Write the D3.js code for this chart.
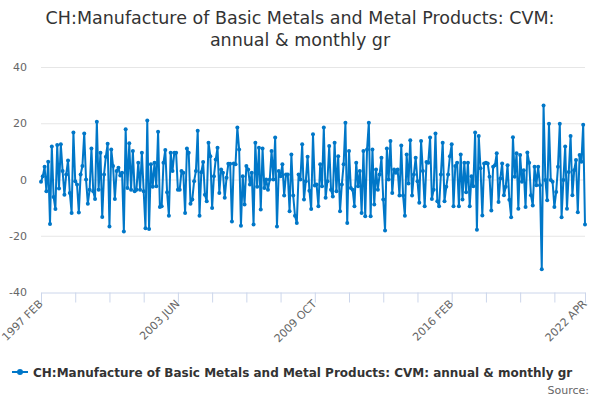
<!DOCTYPE html>
<html>
<head>
<meta charset="utf-8">
<script src="https://cdn.jsdelivr.net/npm/d3@7"></script>
<style>
  html, body { margin: 0; padding: 0; background: #fff; }
  svg { display: block; font-family: "DejaVu Sans", sans-serif; }
</style>
</head>
<body>
<div id="chart"></div>
<script>
// monthly growth, 1997 FEB .. 2022 APR
const startMonth = new Date(1997, 1, 1);
const values = [
  -0.8, 1.2, 4.5, -4.2, 6.3, -15.8, 11.7, -6.2, -10.5, 12.3,
  -3.2, 12.5, 3, -5.4, 1.8, 6.8, -4.8, -11.9, 16.7, -0.6, -1.8,
  -11.7, 1.8, 4.8, 16.4, 0, -8.6, -3.6, 11, -4.2, -6.9, 20.5,
  -3.6, 9.5, -13.3, 1.8, 8.1, 12.7, -16.7, 10.7, 4.8, -6.9,
  3, 4.2, 1.4, 2.4, -18.5, 17.9, -3, 12.9, -3.6, 10.1,
  -4.2, -3.6, 6, -3.6, 9.5, -4.2, -17.3,
  21, -17.6, 5.4, -2.6, 6, -2.4, 17, -9.8, -9.5, 6,
  10.5, -4.5, -12.9, 9.5, 3, 9.5, 9.5, -3.6, -3.6, 3,
  2.4, -11.9, 11, 9.5, -8.6, -7.1, -0.6, 3, 17.3, -12.9,
  2.6, 6.2, -5.4, -7.7, 13.1, 8.3, -10.1, 1.2, 7.1, 11.3,
  -4.8, 3.6, 2.4, -6.5, 0.6, 5.6, 5.6, -14.9, 5.7, 5.4,
  18.5, 10.7, -16.4, 1.2, -8.9, 4.8, 3.6, -1.8, 2.4, -16,
  13.1, -2.6,
  11.3, -10.7, 11, -3, 0, -3.6, 0, 10.1, 0, 14.9,
  -16.7, 3, 1.2, 5.4, -5.7, 1.8, 1.8, -11.3, 8.9, -5.7,
  -12.9, -15.5, 1.8, 0, 12.5, -7.1, -0.6, 8.1, -4, -10.5, 16.1,
  -2.1, -1.8, -9.5, 5.4, -2.4, 18.5, -6.5, -0.6, 11.9, -3.6,
  -6, 13.1, -4.2, 8.3, -11.3, -1.8, 5.4, 20.2, -15.5, 10.1,
  -3, -3.6, -9.5, 6, -2.4, 3, -11.9, 10.1, -13.1, 10.7,
  20.2, -13.1, 10.7, -8.9, 3.6, -3.6, 1.8, 7.7, -7.1, -18.1,
  11, 0, 13.7, -4.8, 3.6, 2.4, 3.6, -5.7, 12.1, -5.7,
  -12.9, 8.9, -1.4, 14, -5.7, 1.8, 7.7, -0.6, -8.3, 13.7,
  3, -9.5, 6.2, 6, 14.9, -6.9, -3.6, 16.4, -7.7, -9.5,
  1.8, 13.1, -7.7, -2.6, 1.8, 8.3, 12.5, -9.5, 4.8, 6,
  -9.5, 8.9, -7.1, 6, -4.5, 6, -9.5, 1.2, -2.4, 16.7,
  -17.9, 15.5,
  4, -12.8, 5.7, 6, 5.7, 1, -11, 4.5, 5.1, 9.3,
  -8, 0.4, 5.7, -5.6, -2.6, 5.1, -7.2, -13.4, 15,
  1, 9.3, -10.4, 8.7, -0.8, 3.3, -9.8, 9.6, 6, -5.6,
  -9.2, 4.5, -2, 4.5, -2, -31.9, 26.3, -0.2, -7.4, 19.8,
  -0.2, -0.8, -9.8, -4.4, 4.5, 19.8, -13.4, -0.2, 11.7, -10.4,
  2.7, 15.5, -5.6, 3.3, 6.9, -11.6, 8.7, 6.3, 19.5, -16
];
const yTicks = [-40, -20, 0, 20, 40];
const tickStep = 19;
const titleLines = ["CH:Manufacture of Basic Metals and Metal Products: CVM:", "annual & monthly gr"];
const seriesName = "CH:Manufacture of Basic Metals and Metal Products: CVM: annual & monthly gr";

const width = 600, height = 400;
const plotLeft = 41, plotRight = 585, plotTop = 67, plotBottom = 292;
const color = "#0077c8";

const svg = d3.select("#chart").append("svg")
  .attr("width", width)
  .attr("height", height);

const x = d3.scaleLinear().domain([0, values.length - 1]).range([plotLeft, plotRight]);
const y = d3.scaleLinear().domain([-40, 40]).range([plotBottom, plotTop]);
const fmt = d => d3.timeFormat("%Y %b")(d3.timeMonth.offset(startMonth, d)).toUpperCase();

// title
svg.append("g").selectAll("text")
  .data(titleLines)
  .join("text")
  .attr("x", width / 2)
  .attr("y", (d, i) => 24 + i * 22)
  .attr("text-anchor", "middle")
  .attr("fill", "#333")
  .style("font-size", "17.5px")
  .text(d => d);

// grid lines
svg.append("g").selectAll("line")
  .data(yTicks.filter(t => t !== -40))
  .join("line")
  .attr("x1", plotLeft).attr("x2", plotRight)
  .attr("y1", d => y(d) + 0.5).attr("y2", d => y(d) + 0.5)
  .attr("stroke", "#e6e6e6");

// y labels
svg.append("g").selectAll("text")
  .data(yTicks)
  .join("text")
  .attr("x", 27)
  .attr("y", d => y(d) + 4)
  .attr("text-anchor", "end")
  .attr("fill", "#666")
  .style("font-size", "11px")
  .text(d => d);

// x axis
const xTicks = d3.range(0, values.length, tickStep).concat([values.length - 1]);
const xAxis = d3.axisBottom(x)
  .tickValues(xTicks)
  .tickSize(10)
  .tickFormat(d => (d % (tickStep * 4) === 0 || d === values.length - 1) ? fmt(d) : "");
const gx = svg.append("g")
  .attr("transform", `translate(0,${plotBottom + 0.5})`)
  .call(xAxis);
gx.select(".domain").attr("stroke", "#ccd6eb");
gx.selectAll(".tick line").attr("stroke", "#ccd6eb");
gx.selectAll(".tick text")
  .attr("fill", "#666")
  .style("font-size", "11px")
  .style("font-family", "DejaVu Sans, sans-serif")
  .attr("text-anchor", "end")
  .attr("dy", null)
  .attr("y", 0)
  .attr("transform", "translate(2,12) rotate(-45)");

// line + markers
const line = d3.line().x((d, i) => x(i)).y(d => y(d));
svg.append("path")
  .datum(values)
  .attr("d", line)
  .attr("fill", "none")
  .attr("stroke", color)
  .attr("stroke-width", 2)
  .attr("stroke-linejoin", "round");

svg.append("g").selectAll("circle")
  .data(values)
  .join("circle")
  .attr("cx", (d, i) => x(i))
  .attr("cy", d => y(d))
  .attr("r", 2)
  .attr("fill", color);

// legend
const lg = svg.append("g");
lg.append("line")
  .attr("x1", 12).attr("x2", 28)
  .attr("y1", 372).attr("y2", 372)
  .attr("stroke", color).attr("stroke-width", 2);
lg.append("circle").attr("cx", 20).attr("cy", 372).attr("r", 3).attr("fill", color);
lg.append("text")
  .attr("x", 33).attr("y", 377)
  .attr("fill", "#333")
  .style("font-size", "12px")
  .style("font-weight", "bold")
  .text(seriesName);

svg.append("text")
  .attr("x", 589).attr("y", 394)
  .attr("text-anchor", "end")
  .attr("fill", "#666")
  .style("font-size", "11px")
  .text("Source:");
</script>
</body>
</html>
